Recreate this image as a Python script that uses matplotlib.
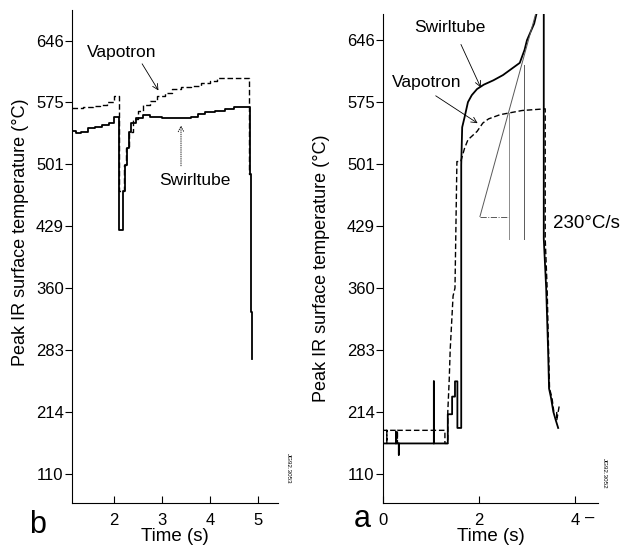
import numpy as np
import matplotlib
matplotlib.use('Agg')
import matplotlib.pyplot as plt
import matplotlib.transforms as mtransforms

plt.rcParams['font.family'] = ['Liberation Sans', 'DejaVu Sans']

# y tick labels sit at equal spacing although the values are not evenly spaced
temp_ticks = [110, 214, 283, 360, 429, 501, 575, 646]

# panel b
b_swirl_t = [1.12, 1.2, 1.3, 1.45, 1.6, 1.75, 1.9, 2.0, 2.1, 2.19, 2.22, 2.26, 2.3, 2.35,
             2.45, 2.6, 2.75, 3.0, 3.4, 3.6, 3.75, 3.9, 4.1, 4.3, 4.5, 4.7, 4.83, 4.85, 4.87]
b_swirl_v = [541, 538, 540, 544, 546, 548, 550, 557, 425, 470, 500, 520, 540, 550,
             556, 560, 558, 556, 556, 558, 561, 563, 565, 567, 569, 570, 490, 330, 273]
b_vapo_t = [1.12, 1.35, 1.55, 1.7, 1.85, 2.0, 2.1, 2.2, 2.25, 2.3, 2.4, 2.5, 2.6, 2.75,
            2.9, 3.05, 3.2, 3.4, 3.6, 3.8, 4.0, 4.15, 4.81, 4.83]
b_vapo_v = [568, 569, 571, 572, 575, 582, 470, 500, 520, 540, 555, 565, 572, 577,
            582, 586, 590, 593, 594, 597, 600, 603, 490, 490]

# panel a
a_swirl_t = [0, 0.27, 0.27, 0.27, 0.33, 0.33, 0.33, 1.06, 1.06, 1.06, 1.35, 1.35, 1.44, 1.44,
             1.5, 1.5, 1.55, 1.55, 1.63, 1.63, 1.65, 1.7, 1.77, 1.85, 1.96, 2.1, 2.3, 2.5,
             2.65, 2.85, 2.95, 3.0, 3.15, 3.3, 3.35, 3.35, 3.4, 3.44, 3.46, 3.5, 3.55, 3.6, 3.65]
a_swirl_v = [161, 161, 180, 161, 161, 142, 161, 161, 248, 161, 161, 210, 210, 231,
             231, 248, 248, 187, 187, 500, 545, 557, 575, 583, 590, 595, 600, 606,
             612, 620, 635, 646, 665, 700, 700, 415, 360, 283, 240, 230, 214, 200, 187]
a_vapo_t = [0, 0.08, 0.08, 0.08, 0.3, 0.3, 0.3, 1.29, 1.29, 1.35, 1.35, 1.38, 1.4, 1.46,
            1.5, 1.54, 1.62, 1.7, 1.77, 1.96, 2.08, 2.2, 2.44, 2.9, 3.38, 3.38, 3.42, 3.45,
            3.47, 3.52, 3.56, 3.62, 3.62, 3.67]
a_vapo_v = [183, 183, 161, 183, 183, 161, 183, 183, 161, 161, 214, 250, 283, 350,
            360, 504, 504, 520, 530, 540, 550, 555, 560, 565, 567, 415, 360, 283,
            240, 230, 214, 214, 200, 220]


def fwd(v):
    v = np.asarray(v, dtype=float)
    p = np.interp(v, temp_ticks, np.arange(8))
    p = np.where(v < 110, (v - 110) / 104.0, p)
    p = np.where(v > 646, 7 + (v - 646) / 71.0, p)
    return p


def inv(p):
    p = np.asarray(p, dtype=float)
    v = np.interp(p, np.arange(8), temp_ticks)
    v = np.where(p < 0, 110 + p * 104.0, v)
    v = np.where(p > 7, 646 + (p - 7) * 71.0, v)
    return v


fig = plt.figure(figsize=(6.25, 5.45), dpi=100)
ax_b = fig.add_axes([72 / 625, 42 / 545, 206 / 625, 493 / 545])
ax_a = fig.add_axes([383 / 625, 42 / 545, 215 / 625, 489 / 545])

for ax in (ax_b, ax_a):
    ax.set_yscale('function', functions=(fwd, inv))
    ax.set_yticks(temp_ticks)
    ax.set_yticklabels([str(t) for t in temp_ticks])
    ax.minorticks_off()
    ax.spines['top'].set_visible(False)
    ax.spines['right'].set_visible(False)
    ax.tick_params(axis='y', direction='out', length=5, labelsize=12, pad=1)
    ax.tick_params(axis='x', direction='in', length=5, labelsize=12, pad=7)
    ax.set_ylabel('Peak IR surface temperature (\u00b0C)', fontsize=13)
    ax.set_xlabel('Time (s)', fontsize=13.5, labelpad=0)

ax_b.yaxis.set_label_coords(-0.21, 0.55)
ax_a.yaxis.set_label_coords(-0.245, 0.48)

# panel b
ax_b.plot(b_swirl_t, b_swirl_v, color='black', lw=1.3, drawstyle='steps-post')
ax_b.plot(b_vapo_t, b_vapo_v, color='black', lw=1.0, ls=(0, (4, 2)), drawstyle='steps-post')
ax_b.set_xlim(1.12, 5.41)
ax_b.set_ylim(61, 681)
ax_b.set_xticks([2, 3, 4, 5])
ax_b.text(2.15, 632, 'Vapotron', fontsize=12.5, ha='center', va='center')
ax_b.annotate('', xy=(2.95, 586), xytext=(2.55, 622),
              arrowprops=dict(arrowstyle='->', lw=0.6, color='black'))
ax_b.text(3.68, 482, 'Swirltube', fontsize=12.5, ha='center', va='center')
ax_b.annotate('', xy=(3.39, 551), xytext=(3.39, 496),
              arrowprops=dict(arrowstyle='->', lw=0.6, color='black', ls=':'))
ax_b.text(-0.165, -0.061, 'b', transform=ax_b.transAxes, fontsize=22,
          ha='center', va='baseline')
ax_b.text(1.05, 0.07, 'JG92.3053', transform=ax_b.transAxes, fontsize=4.5,
          rotation=270, ha='center', va='center')

# panel a
ax_a.plot(a_swirl_t, a_swirl_v, color='black', lw=1.3)
ax_a.plot(a_vapo_t, a_vapo_v, color='black', lw=1.0, ls=(0, (4, 2)))
# slope construction
ax_a.plot([2.02, 3.3], [440, 700], color='0.35', lw=0.7)
ax_a.plot([2.02, 2.63], [440, 440], color='0.35', lw=0.7, ls='-.')
ax_a.plot([2.63, 2.63], [562, 415], color='0.55', lw=0.7)
ax_a.plot([2.94, 2.94], [617, 415], color='0.35', lw=0.7)
ax_a.set_xlim(0, 4.48)
ax_a.set_ylim(61, 676)
ax_a.set_xticks([0, 2, 4])
ax_a.text(1.40, 660, 'Swirltube', fontsize=12.5, ha='center', va='center')
ax_a.annotate('', xy=(2.06, 589), xytext=(1.6, 644),
              arrowprops=dict(arrowstyle='->', lw=0.6, color='black'))
ax_a.text(0.9, 598, 'Vapotron', fontsize=12.5, ha='center', va='center')
ax_a.annotate('', xy=(2.02, 548), xytext=(1.05, 584),
              arrowprops=dict(arrowstyle='->', lw=0.6, color='black'))
ax_a.text(3.55, 432, '230\u00b0C/s', fontsize=13.5, ha='left', va='center', clip_on=False)
ax_a.text(-0.098, -0.049, 'a', transform=ax_a.transAxes, fontsize=22,
          ha='center', va='baseline')
dash_tr = mtransforms.blended_transform_factory(ax_a.transData, ax_a.transAxes)
ax_a.text(4.3, -0.032, '\u2013', transform=dash_tr, fontsize=12, ha='center', va='center')
ax_a.text(1.03, 0.06, 'JG92.3052', transform=ax_a.transAxes, fontsize=4.5,
          rotation=270, ha='center', va='center')

fig.savefig('out.png', dpi=100)
